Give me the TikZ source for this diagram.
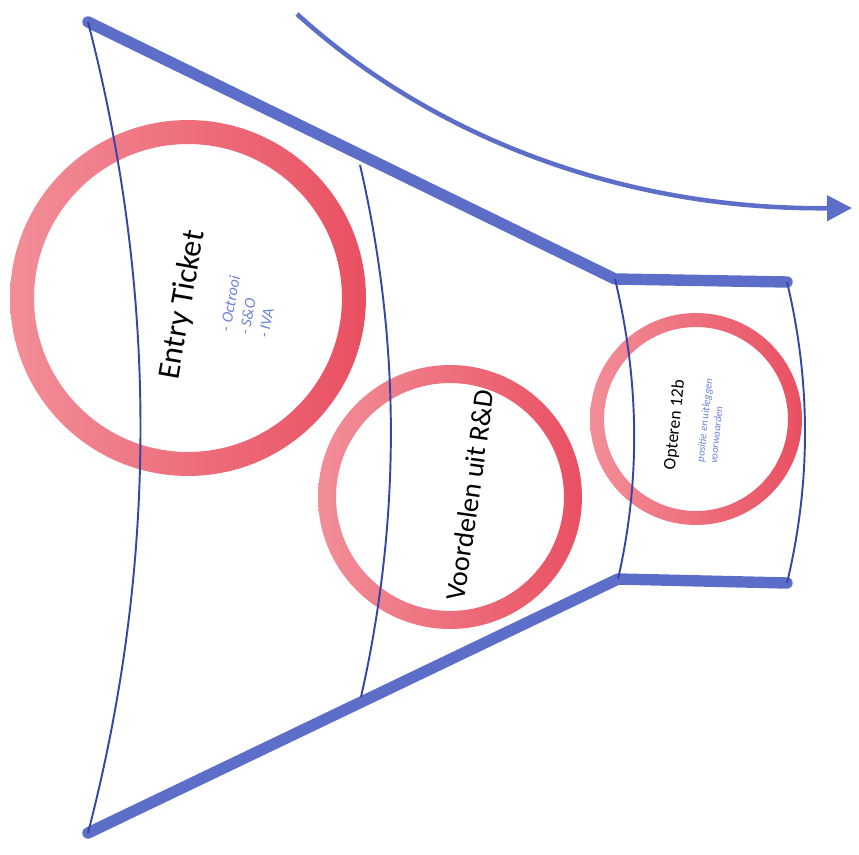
\documentclass[tikz,border=0pt]{standalone}
\usepackage{fontspec}
\setmainfont{Carlito}
\usetikzlibrary{arrows.meta, positioning}

\definecolor{funnelblue}{RGB}{92,110,200}
\definecolor{thinblue}{RGB}{55,70,165}
\definecolor{ringlight}{RGB}{242,142,152}
\definecolor{ringdark}{RGB}{233,80,98}
\definecolor{noteblue}{RGB}{105,130,215}

\begin{document}
\begin{tikzpicture}[
    x=0.02cm, y=-0.02cm,
    wall/.style={line width=6.5pt, color=funnelblue, line cap=round, line join=round},
    divider/.style={line width=1.1pt, color=thinblue},
    ring/.style={left color=ringlight, right color=ringdark, even odd rule},
    flow/.style={-{Triangle[length=0.5cm, width=0.5cm]}, line width=2.6pt, color=funnelblue},
    title/.style={inner sep=1pt, align=center},
    note/.style={inner sep=1pt, font=\itshape\fontsize{9}{11}\selectfont, color=noteblue, align=left}
]
    \useasboundingbox (0,0) rectangle (859,855);

    % Corners of the funnel
    \coordinate (topleft) at (88,22);
    \coordinate (botleft) at (88,833);
    \coordinate (topmid) at (360,165);
    \coordinate (botmid) at (361,697);
    \coordinate (topneck) at (615,279);
    \coordinate (botneck) at (618,579);
    \coordinate (topend) at (787,282);
    \coordinate (botend) at (787,583);

    % Circles
    \coordinate (ticket) at (188,298);
    \coordinate (rnd) at (450,497);
    \coordinate (opt) at (696,419);
    \path[ring] (ticket) circle[radius=3.56cm] (ticket) circle[radius=3.08cm];
    \path[ring] (rnd) circle[radius=2.64cm] (rnd) circle[radius=2.28cm];
    \path[ring] (opt) circle[radius=2.12cm] (opt) circle[radius=1.84cm];

    % Funnel walls
    \draw[wall] (topleft) -- (topneck) -- (topend);
    \draw[wall] (botleft) -- (botneck) -- (botend);

    % Dividers
    \draw[divider] (topleft) .. controls (158,292) and (158,563) .. (botleft);
    \draw[divider] (topmid) .. controls (401,342) and (401,520) .. (botmid);
    \draw[divider] (topneck) .. controls (639,379) and (641,479) .. (botneck);
    \draw[divider] (topend) .. controls (811,382) and (811,483) .. (botend);

    % Flow arrow
    \coordinate (flowstart) at (297,14);
    \coordinate (flowend) at (852,208);
    \draw[flow] (flowstart) .. controls (430,135) and (620,210) .. (flowend);

    % Labels
    \node[title, font=\fontsize{18}{21}\selectfont, rotate=80] (ticketlabel) at (183,305) {Entry Ticket};
    \node[note, rotate=80] (ticketnote) at (249,307) {- Octrooi\\- S\&O\\- IVA};
    \node[title, font=\fontsize{16}{19}\selectfont, rotate=82] (rndlabel) at (470,495) {Voordelen uit R\&D};
    \node[title, font=\fontsize{10}{12}\selectfont, rotate=84] (optlabel) at (675,425) {Opteren 12b};
    \node[note, font=\itshape\fontsize{6}{7.5}\selectfont, rotate=84] (optnote) at (711,421) {positie en uitleggen\\voorwaarden};
\end{tikzpicture}
\end{document}
